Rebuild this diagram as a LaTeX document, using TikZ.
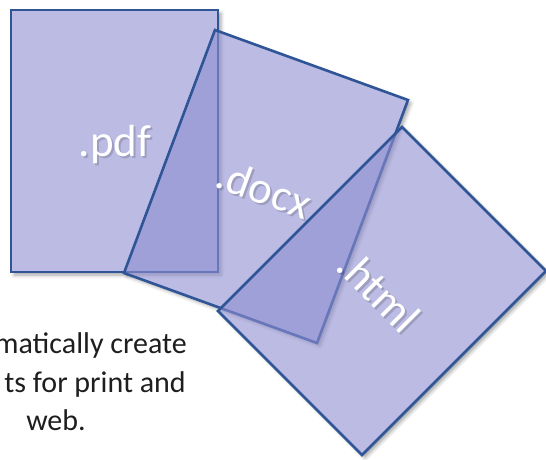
\documentclass[tikz,border=0pt]{standalone}
\usepackage{fontspec}
\setmainfont{Carlito}
\usetikzlibrary{shadows.blur}
\definecolor{docfill}{RGB}{142,142,210}
\definecolor{docline}{RGB}{47,85,151}
\definecolor{captxt}{RGB}{30,30,30}
\tikzset{
  doc/.style={fill=docfill, fill opacity=0.6, draw=docline, line width=2.6pt, line join=miter},
  docshadow/.style={blur shadow={shadow xshift=3pt, shadow yshift=-3pt, shadow blur radius=3.5pt, shadow opacity=35}},
  lbl/.style={text=white, font=\fontsize{45}{54}\selectfont, inner sep=0pt},
  lblshadow/.style={text=black, text opacity=0.16, font=\fontsize{45}{54}\selectfont, inner sep=0pt},
  captext/.style={text=captxt, font=\fontsize{30}{38}\selectfont, inner sep=0pt}
}
\begin{document}
\begin{tikzpicture}[x=1pt,y=-1pt]
\useasboundingbox (0,0) rectangle (546,459);
% corners
\coordinate (p1) at (11,10);  \coordinate (p2) at (218,10);
\coordinate (p3) at (218,272); \coordinate (p4) at (11,272);
\coordinate (d1) at (215,30);  \coordinate (d2) at (408,100);
\coordinate (d3) at (317,343); \coordinate (d4) at (124,273);
\coordinate (h1) at (402,127); \coordinate (h2) at (546,271);
\coordinate (h3) at (362,455); \coordinate (h4) at (218,311);
% pdf
\begin{scope}[even odd rule]
  \clip (-20,-20) rectangle (580,490) (p1)--(p2)--(p3)--(p4)--cycle;
  \path[docshadow] (p1)--(p2)--(p3)--(p4)--cycle;
\end{scope}
\draw[doc] (p1)--(p2)--(p3)--(p4)--cycle;
% docx
\begin{scope}[even odd rule]
  \clip (-20,-20) rectangle (580,490) (d1)--(d2)--(d3)--(d4)--cycle;
  \path[docshadow] (d1)--(d2)--(d3)--(d4)--cycle;
\end{scope}
\draw[doc] (d1)--(d2)--(d3)--(d4)--cycle;
% html
\begin{scope}[even odd rule]
  \clip (-20,-20) rectangle (580,490) (h1)--(h2)--(h3)--(h4)--cycle;
  \path[docshadow] (h1)--(h2)--(h3)--(h4)--cycle;
\end{scope}
\draw[doc] (h1)--(h2)--(h3)--(h4)--cycle;
% labels
\node[lblshadow] at (117,146) {.pdf};
\node[lbl] (pdf) at (115,144) {.pdf};
\node[lblshadow, rotate=-20] at (266,191) {.docx};
\node[lbl, rotate=-20] (docx) at (264,189) {.docx};
\node[lblshadow, rotate=-45] at (381,293) {.html};
\node[lbl, rotate=-45] (html) at (379,291) {.html};
% caption
\node[captext, anchor=base east] (c1) at (187,353) {matically create};
\node[captext, anchor=base east] (c2) at (186,392) {ts for print and};
\node[captext, anchor=base] (c3) at (56,430) {web.};
\end{tikzpicture}
\end{document}
